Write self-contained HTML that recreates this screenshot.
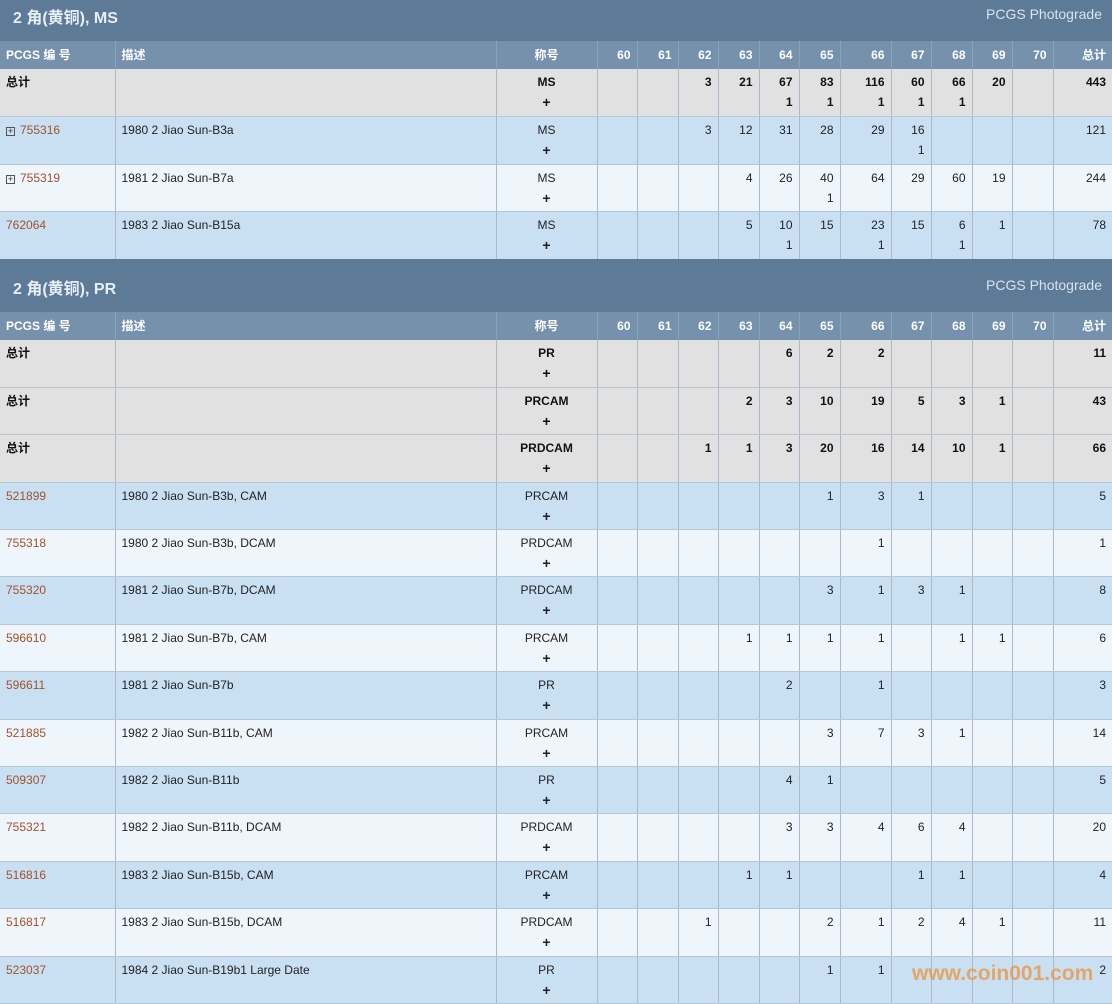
<!DOCTYPE html>
<html><head><meta charset="utf-8"><style>
*{margin:0;padding:0;box-sizing:border-box}
body{width:1112px;height:1004px;overflow:hidden;background:#fff;font-family:"Liberation Sans","Noto Sans CJK SC",sans-serif;font-size:12px;color:#222;position:relative}
.sh{position:absolute;left:0;width:1112px;height:53px;background:#5d7a96;color:#e6eef6}
.sh b{position:absolute;left:13px;top:16px;font-size:16px}
.sh span{position:absolute;right:10px;top:18px;font-size:14px;color:#d9e4ee}
table{position:absolute;left:0;width:1112px;border-collapse:collapse;table-layout:fixed}
td,th{border-right:1px solid #a9b9c9;border-bottom:1px solid #b8c6d3;vertical-align:top;padding:3px 6px 0 6px;line-height:20px;text-align:right;overflow:hidden;white-space:nowrap}
th{background:#7591ac;color:#fff;font-weight:bold;height:28px;padding-top:4px;border-right:1px solid #8aa3ba;border-bottom:none}
td:last-child,th:last-child{border-right:none}
td:nth-child(1),td:nth-child(2),th:nth-child(1),th:nth-child(2){text-align:left}
td:nth-child(3),th:nth-child(3){text-align:center}
td b{font-size:14px}
tr.t td{background:#e1e1e1;font-weight:bold;color:#111}
tr.b td{background:#c9dff2}
tr.l td{background:#eef5fb}
a{color:#a0522d;text-decoration:none}
.pl{display:inline-block;width:9px;height:9px;border:1px solid #555;font-size:9px;line-height:7px;text-align:center;margin-right:5px;color:#333;vertical-align:0px}
.wm{position:absolute;left:912px;top:962px;font-size:21px;font-weight:bold;color:rgba(235,150,70,0.8);font-family:"Liberation Sans",sans-serif}
</style></head><body>
<div class="sh" style="top:-12px"><b>2 角(黄铜), MS</b><span>PCGS Photograde</span></div>
<table style="top:41px">
<colgroup><col style="width:115px"><col style="width:381px"><col style="width:101px"><col style="width:40px"><col style="width:41px"><col style="width:40px"><col style="width:41px"><col style="width:40px"><col style="width:41px"><col style="width:51px"><col style="width:40px"><col style="width:41px"><col style="width:40px"><col style="width:41px"><col style="width:59px"></colgroup>
<tr><th>PCGS 编 号</th><th>描述</th><th>称号</th><th>60</th><th>61</th><th>62</th><th>63</th><th>64</th><th>65</th><th>66</th><th>67</th><th>68</th><th>69</th><th>70</th><th>总计</th></tr>
<tr class="t" style="height:47.5px"><td>总计</td><td></td><td>MS<br><b>+</b></td><td></td><td></td><td>3</td><td>21</td><td>67<br>1</td><td>83<br>1</td><td>116<br>1</td><td>60<br>1</td><td>66<br>1</td><td>20</td><td></td><td>443</td></tr>
<tr class="b" style="height:47.5px"><td><span class="pl">+</span><a>755316</a></td><td>1980 2 Jiao Sun-B3a</td><td>MS<br><b>+</b></td><td></td><td></td><td>3</td><td>12</td><td>31</td><td>28</td><td>29</td><td>16<br>1</td><td></td><td></td><td></td><td>121</td></tr>
<tr class="l" style="height:47.5px"><td><span class="pl">+</span><a>755319</a></td><td>1981 2 Jiao Sun-B7a</td><td>MS<br><b>+</b></td><td></td><td></td><td></td><td>4</td><td>26</td><td>40<br>1</td><td>64</td><td>29</td><td>60</td><td>19</td><td></td><td>244</td></tr>
<tr class="b" style="height:47.5px"><td><a>762064</a></td><td>1983 2 Jiao Sun-B15a</td><td>MS<br><b>+</b></td><td></td><td></td><td></td><td>5</td><td>10<br>1</td><td>15</td><td>23<br>1</td><td>15</td><td>6<br>1</td><td>1</td><td></td><td>78</td></tr>
</table>
<div class="sh" style="top:259px"><b>2 角(黄铜), PR</b><span>PCGS Photograde</span></div>
<table style="top:312px">
<colgroup><col style="width:115px"><col style="width:381px"><col style="width:101px"><col style="width:40px"><col style="width:41px"><col style="width:40px"><col style="width:41px"><col style="width:40px"><col style="width:41px"><col style="width:51px"><col style="width:40px"><col style="width:41px"><col style="width:40px"><col style="width:41px"><col style="width:59px"></colgroup>
<tr><th>PCGS 编 号</th><th>描述</th><th>称号</th><th>60</th><th>61</th><th>62</th><th>63</th><th>64</th><th>65</th><th>66</th><th>67</th><th>68</th><th>69</th><th>70</th><th>总计</th></tr>
<tr class="t" style="height:47.4px"><td>总计</td><td></td><td>PR<br><b>+</b></td><td></td><td></td><td></td><td></td><td>6</td><td>2</td><td>2</td><td></td><td></td><td></td><td></td><td>11</td></tr>
<tr class="t" style="height:47.4px"><td>总计</td><td></td><td>PRCAM<br><b>+</b></td><td></td><td></td><td></td><td>2</td><td>3</td><td>10</td><td>19</td><td>5</td><td>3</td><td>1</td><td></td><td>43</td></tr>
<tr class="t" style="height:47.4px"><td>总计</td><td></td><td>PRDCAM<br><b>+</b></td><td></td><td></td><td>1</td><td>1</td><td>3</td><td>20</td><td>16</td><td>14</td><td>10</td><td>1</td><td></td><td>66</td></tr>
<tr class="b" style="height:47.4px"><td><a>521899</a></td><td>1980 2 Jiao Sun-B3b, CAM</td><td>PRCAM<br><b>+</b></td><td></td><td></td><td></td><td></td><td></td><td>1</td><td>3</td><td>1</td><td></td><td></td><td></td><td>5</td></tr>
<tr class="l" style="height:47.4px"><td><a>755318</a></td><td>1980 2 Jiao Sun-B3b, DCAM</td><td>PRDCAM<br><b>+</b></td><td></td><td></td><td></td><td></td><td></td><td></td><td>1</td><td></td><td></td><td></td><td></td><td>1</td></tr>
<tr class="b" style="height:47.4px"><td><a>755320</a></td><td>1981 2 Jiao Sun-B7b, DCAM</td><td>PRDCAM<br><b>+</b></td><td></td><td></td><td></td><td></td><td></td><td>3</td><td>1</td><td>3</td><td>1</td><td></td><td></td><td>8</td></tr>
<tr class="l" style="height:47.4px"><td><a>596610</a></td><td>1981 2 Jiao Sun-B7b, CAM</td><td>PRCAM<br><b>+</b></td><td></td><td></td><td></td><td>1</td><td>1</td><td>1</td><td>1</td><td></td><td>1</td><td>1</td><td></td><td>6</td></tr>
<tr class="b" style="height:47.4px"><td><a>596611</a></td><td>1981 2 Jiao Sun-B7b</td><td>PR<br><b>+</b></td><td></td><td></td><td></td><td></td><td>2</td><td></td><td>1</td><td></td><td></td><td></td><td></td><td>3</td></tr>
<tr class="l" style="height:47.4px"><td><a>521885</a></td><td>1982 2 Jiao Sun-B11b, CAM</td><td>PRCAM<br><b>+</b></td><td></td><td></td><td></td><td></td><td></td><td>3</td><td>7</td><td>3</td><td>1</td><td></td><td></td><td>14</td></tr>
<tr class="b" style="height:47.4px"><td><a>509307</a></td><td>1982 2 Jiao Sun-B11b</td><td>PR<br><b>+</b></td><td></td><td></td><td></td><td></td><td>4</td><td>1</td><td></td><td></td><td></td><td></td><td></td><td>5</td></tr>
<tr class="l" style="height:47.4px"><td><a>755321</a></td><td>1982 2 Jiao Sun-B11b, DCAM</td><td>PRDCAM<br><b>+</b></td><td></td><td></td><td></td><td></td><td>3</td><td>3</td><td>4</td><td>6</td><td>4</td><td></td><td></td><td>20</td></tr>
<tr class="b" style="height:47.4px"><td><a>516816</a></td><td>1983 2 Jiao Sun-B15b, CAM</td><td>PRCAM<br><b>+</b></td><td></td><td></td><td></td><td>1</td><td>1</td><td></td><td></td><td>1</td><td>1</td><td></td><td></td><td>4</td></tr>
<tr class="l" style="height:47.4px"><td><a>516817</a></td><td>1983 2 Jiao Sun-B15b, DCAM</td><td>PRDCAM<br><b>+</b></td><td></td><td></td><td>1</td><td></td><td></td><td>2</td><td>1</td><td>2</td><td>4</td><td>1</td><td></td><td>11</td></tr>
<tr class="b" style="height:47.4px"><td><a>523037</a></td><td>1984 2 Jiao Sun-B19b1 Large Date</td><td>PR<br><b>+</b></td><td></td><td></td><td></td><td></td><td></td><td>1</td><td>1</td><td></td><td></td><td></td><td></td><td>2</td></tr>
</table>
<div class="wm">www.coin001.com</div>
</body></html>
